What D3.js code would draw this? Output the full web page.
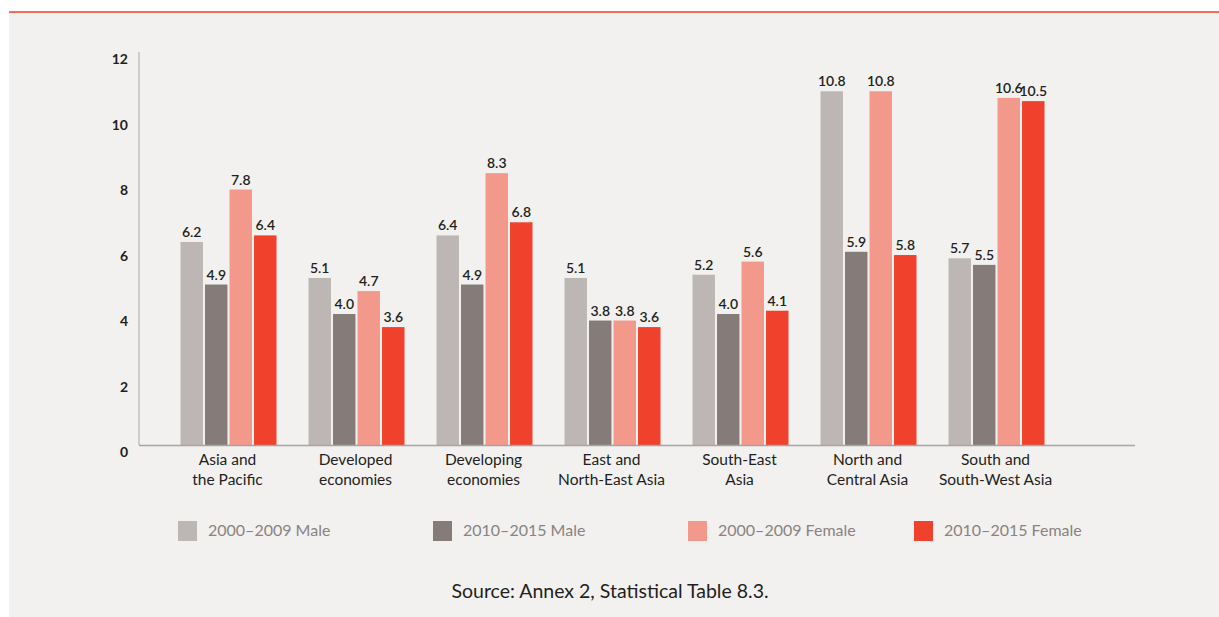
<!DOCTYPE html>
<html>
<head>
<meta charset="utf-8">
<script src="https://cdn.jsdelivr.net/npm/d3@7"></script>
<style>
  html, body { margin: 0; padding: 0; background: #ffffff; }
  svg { display: block; }
  text { font-family: Lato, "Open Sans", sans-serif; }
</style>
</head>
<body>
<svg id="chart" width="1219" height="617"></svg>
<script>
// ---- data ----
const categories = [
  ["Asia and", "the Pacific"],
  ["Developed", "economies"],
  ["Developing", "economies"],
  ["East and", "North-East Asia"],
  ["South-East", "Asia"],
  ["North and", "Central Asia"],
  ["South and", "South-West Asia"]
];
const seriesNames = ["2000–2009 Male", "2010–2015 Male", "2000–2009 Female", "2010–2015 Female"];
const male2000 =   [6.2, 5.1, 6.4, 5.1, 5.2, 10.8, 5.7];
const male2010 =   [4.9, 4.0, 4.9, 3.8, 4.0, 5.9, 5.5];
const female2000 = [7.8, 4.7, 8.3, 3.8, 5.6, 10.8, 10.6];
const female2010 = [6.4, 3.6, 6.8, 3.6, 4.1, 5.8, 10.5];
const yTicks = [0, 2, 4, 6, 8, 10, 12];
const sourceText = "Source: Annex 2, Statistical Table 8.3.";

// ---- styles / layout ----
const colors = ["#bcb7b4", "#857c79", "#f2998c", "#ef412c"];
const series = [male2000, male2010, female2000, female2010];
const catKeys = categories.map(c => c.join(" "));

const svg = d3.select("#chart");
svg.append("rect").attr("x", 9).attr("y", 13).attr("width", 1210).attr("height", 604).attr("fill", "#f2f1ef");
svg.append("line").attr("x1", 9).attr("x2", 1219).attr("y1", 12).attr("y2", 12)
  .attr("stroke", "#f36e5a").attr("stroke-width", 2);

const y = d3.scaleLinear().domain([0, 12]).range([445, 52]);
const x0 = d3.scaleBand().domain(catKeys).range([163.5, 1059.5]).padding(0);
const x1 = d3.scaleBand().domain(d3.range(series.length)).range([17, 113]).paddingInner(2 / 24).paddingOuter(0);

// y axis
const yAxis = svg.append("g").attr("transform", "translate(128,0)")
  .call(d3.axisLeft(y).tickValues(yTicks).tickSize(0).tickPadding(0));
yAxis.select(".domain").remove();
yAxis.selectAll("text")
  .attr("dy", "0.85em")
  .attr("font-size", 14).attr("font-weight", 700)
  .attr("fill", "#231f20")
  .attr("font-family", "Lato, sans-serif");

svg.append("line").attr("x1", 139).attr("x2", 139).attr("y1", 52).attr("y2", 445)
  .attr("stroke", "#c3c0be").attr("stroke-width", 1.5);

// bars
const groups = svg.append("g").selectAll("g")
  .data(catKeys).join("g")
  .attr("transform", d => `translate(${x0(d)},0)`);

groups.each(function (cat, ci) {
  const g = d3.select(this);
  series.forEach((vals, si) => {
    const v = vals[ci];
    g.append("rect")
      .attr("x", x1(si)).attr("width", x1.bandwidth())
      .attr("y", y(v)).attr("height", y(0) - y(v))
      .attr("fill", colors[si]);
    g.append("text")
      .attr("x", x1(si) + x1.bandwidth() / 2)
      .attr("y", y(v) - 5)
      .attr("text-anchor", "middle")
      .attr("font-size", 14)
      .attr("font-weight", 600)
      .attr("fill", "#231f20")
      .text(v.toFixed(1));
  });
});

// baseline
svg.append("line").attr("x1", 139).attr("x2", 1135).attr("y1", 445.5).attr("y2", 445.5)
  .attr("stroke", "#a8a5a5").attr("stroke-width", 1.5);

// category labels
const catLabels = svg.append("g").selectAll("text")
  .data(categories).join("text")
  .attr("x", (d, i) => x0(catKeys[i]) + x0.bandwidth() / 2)
  .attr("y", 465)
  .attr("text-anchor", "middle")
  .attr("font-size", 15.5)
  .attr("fill", "#231f20");
catLabels.each(function (d) {
  const t = d3.select(this);
  d.forEach((line, li) => {
    t.append("tspan").attr("x", t.attr("x")).attr("dy", li === 0 ? 0 : 19.5).text(line);
  });
});

// legend
const legendX = [178, 433, 688, 914];
const legend = svg.append("g").selectAll("g")
  .data(seriesNames).join("g")
  .attr("transform", (d, i) => `translate(${legendX[i]},521)`);
legend.append("rect").attr("width", 19).attr("height", 20).attr("fill", (d, i) => colors[i]);
legend.append("text").attr("x", 30).attr("y", 14.5)
  .attr("font-size", 16).attr("fill", "#8a8381").text(d => d);

// source
svg.append("text").attr("x", 610).attr("y", 598).attr("text-anchor", "middle")
  .attr("font-size", 19.5).attr("fill", "#231f20").text(sourceText);
</script>
</body>
</html>
